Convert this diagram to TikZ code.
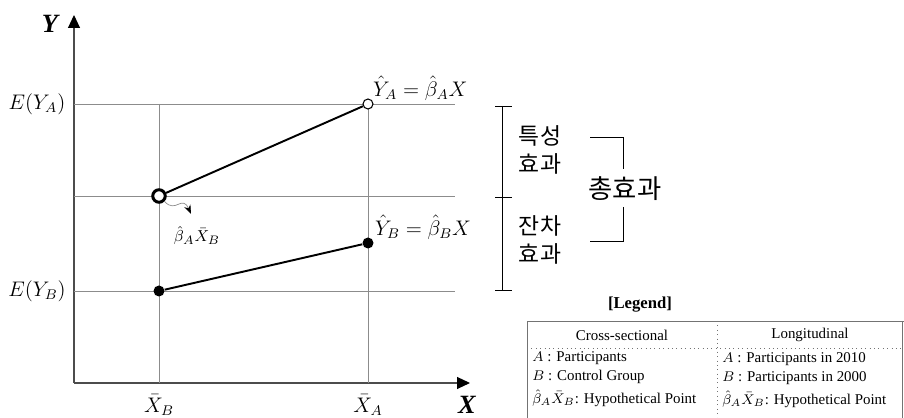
\documentclass[tikz,border=0pt]{standalone}
\usepackage{amsmath}
\usepackage{fontspec}
\setmainfont{Liberation Serif}
\newfontfamily\kor{Noto Sans CJK KR}
\usetikzlibrary{arrows.meta, positioning}

\begin{document}
\begin{tikzpicture}[
      x = 0.02cm, y = -0.02cm,
      grid/.style    = {black!45, line width = .4pt},
      axis/.style    = {black!70, line width = .6pt, -{Triangle[length = 2.6mm, width = 2.4mm, black]}},
      fit/.style     = {line width = 1.1pt},
      opendot/.style = {circle, draw, fill = white, minimum size = 2mm, inner sep = 0pt, line width = .6pt},
      hypdot/.style  = {circle, draw, fill = white, minimum size = 2.5mm, inner sep = 0pt, line width = 1.7pt},
      fulldot/.style = {circle, fill = black, minimum size = 2.2mm, inner sep = 0pt},
      lab/.style     = {font = \fontsize{11.5}{13}\selectfont, inner sep = 1pt},
      axlab/.style   = {font = \fontsize{15}{17}\selectfont\bfseries\itshape, inner sep = 1pt},
      kr/.style      = {font = \fontsize{13}{15}\selectfont\kor, inner sep = 1pt},
      leg/.style     = {font = \fontsize{8.5}{10}\selectfont, inner sep = 0pt},
      tab/.style     = {black!55, line width = .5pt},
      tabdot/.style  = {black!55, line width = .5pt, dotted}
    ]
  \useasboundingbox (0,0) rectangle (904,418);

  % ---------- axes -------------------------------------------------------
  \coordinate (O)  at (74,383);
  \coordinate (yt) at (74,15);
  \coordinate (xt) at (470,383);
  \draw[axis] (O) -- (yt);
  \draw[axis] (O) -- (xt);
  \node[axlab] (ylab) at (50,24)  {Y};
  \node[axlab] (xlab) at (467,405) {X};

  % ---------- grid -------------------------------------------------------
  \draw[grid] (74,104) -- (455,104);
  \draw[grid] (74,196) -- (455,196);
  \draw[grid] (74,291) -- (455,291);
  \draw[grid] (159,104) -- (159,383);
  \draw[grid] (368,104) -- (368,383);

  \node[lab] (eya) at (37,104) {$E(Y_A)$};
  \node[lab] (eyb) at (37,291) {$E(Y_B)$};
  \node[lab] (xb)  at (159,405) {$\bar{X}_B$};
  \node[lab] (xa)  at (368,405) {$\bar{X}_A$};

  % ---------- fitted lines -----------------------------------------------
  \node[hypdot]  (hyp) at (159,196) {};
  \node[opendot] (pa)  at (368,104) {};
  \node[fulldot] (b0)  at (159,291) {};
  \node[fulldot] (pb)  at (368,243) {};
  \draw[fit] (hyp) -- (pa);
  \draw[fit] (b0) -- (pb);

  \node[lab, anchor = west] (eqa) at (371,88)  {$\hat{Y}_A=\hat{\beta}_AX$};
  \node[lab, anchor = west] (eqb) at (373,227) {$\hat{Y}_B=\hat{\beta}_BX$};

  \node[lab, font = \fontsize{9.5}{11}\selectfont, anchor = north] (hyplab) at (197,224)
        {$\hat{\beta}_A\bar{X}_B$};
  \coordinate (wig) at (191,214);
  \draw[black!45, line width = .4pt, -{Stealth[length = 1.8mm, black]}]
        (hyp.south east) .. controls (176,214) and (182,194) .. (wig);

  % ---------- effects ----------------------------------------------------
  \draw[black] (502,106) -- (502,290);
  \foreach \y in {106,197,290} \draw[black] (495,\y) -- (512,\y);

  \node[kr, align = center] (char) at (540,150) {특성\\[1pt]효과};
  \node[kr, align = center] (resi) at (540,240) {잔차\\[1pt]효과};
  \node[kr, font = \fontsize{15}{17}\selectfont\kor] (tot) at (625,189) {총효과};
  \draw (590,137) -- (623,137) -- (623,169);
  \draw (623,207) -- (623,241) -- (590,241);

  % ---------- legend -----------------------------------------------------
  \node[leg, font = \fontsize{9.5}{11}\selectfont\bfseries] (legt) at (640,305) {[Legend]};
  \draw[tab] (527,418) -- (527,321) -- (904,321);
  \draw[tab] (902,321) -- (902,418);
  \draw[tabdot] (527,348) -- (902,348);
  \draw[tabdot] (717,321) -- (717,418);

  \node[leg] (h1) at (622,335) {Cross-sectional};
  \node[leg] (h2) at (810,335) {Longitudinal};

  \node[leg, anchor = west] (c11) at (532,358) {$A$ : Participants};
  \node[leg, anchor = west] (c12) at (532,377) {$B$ : Control Group};
  \node[leg, anchor = west] (c13) at (532,398) {$\hat{\beta}_A\bar{X}_B$: Hypothetical Point};
  \node[leg, anchor = west] (c21) at (722,359) {$A$ : Participants in 2010};
  \node[leg, anchor = west] (c22) at (722,378) {$B$ : Participants in 2000};
  \node[leg, anchor = west] (c23) at (722,399) {$\hat{\beta}_A\bar{X}_B$: Hypothetical Point};

\end{tikzpicture}
\end{document}
